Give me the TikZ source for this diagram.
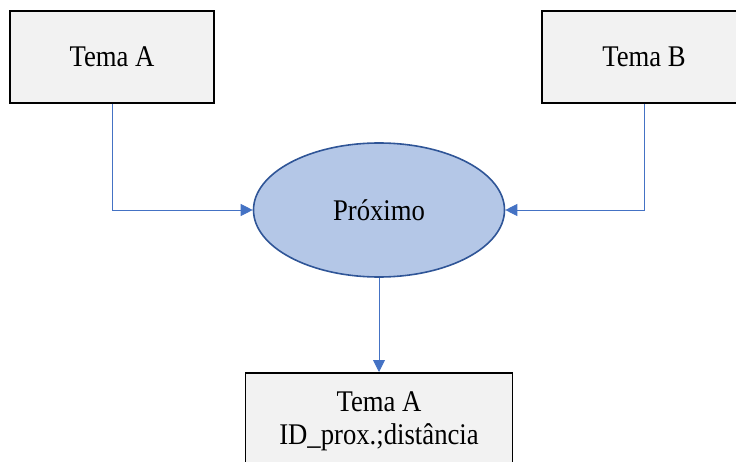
\documentclass[tikz,border=0pt]{standalone}
\usepackage{fontspec}
\setmainfont{Liberation Serif}
\newfontfamily\labelfont[FakeStretch=0.89]{Liberation Serif}
\usetikzlibrary{shapes.geometric,arrows.meta}
\definecolor{boxfill}{HTML}{F2F2F2}
\definecolor{ellfill}{HTML}{B4C7E7}
\definecolor{ellline}{HTML}{2F5597}
\definecolor{link}{HTML}{4472C4}
\tikzset{
  every node/.style={font=\labelfont\fontsize{30}{33}\selectfont, text=black},
  topic/.style={draw=black, line width=1.6pt, fill=boxfill, inner sep=0pt,
    minimum width=204pt, minimum height=92pt},
  result/.style={draw=black, line width=1.6pt, fill=boxfill, align=center,
    anchor=north, inner xsep=0pt, inner ysep=19pt, minimum width=267pt},
  operation/.style={ellipse, draw=ellline, line width=1.6pt, fill=ellfill,
    inner sep=0pt, minimum width=251pt, minimum height=134pt},
  link/.style={draw=link, line width=0.9pt,
    -{Triangle[length=12pt,width=12pt]}}
}
\begin{document}
\begin{tikzpicture}[x=1pt,y=1pt]
  \useasboundingbox (0,0) rectangle (736,461);
  % input themes
  \node[topic] (temaA) at (112,404) {Tema A};
  \node[topic] (temaB) at (644,404) {Tema B};
  % proximity operation
  \node[operation] (prox) at (379,251) {Próximo};
  % output theme
  \node[result] (saida) at (379,89) {Tema A\\ID\_prox.;distância};
  % connectors
  \draw[link] (temaA.south) |- (prox.west);
  \draw[link] (temaB.south) |- (prox.east);
  \draw[link] (prox.south) -- (saida.north);
\end{tikzpicture}
\end{document}
